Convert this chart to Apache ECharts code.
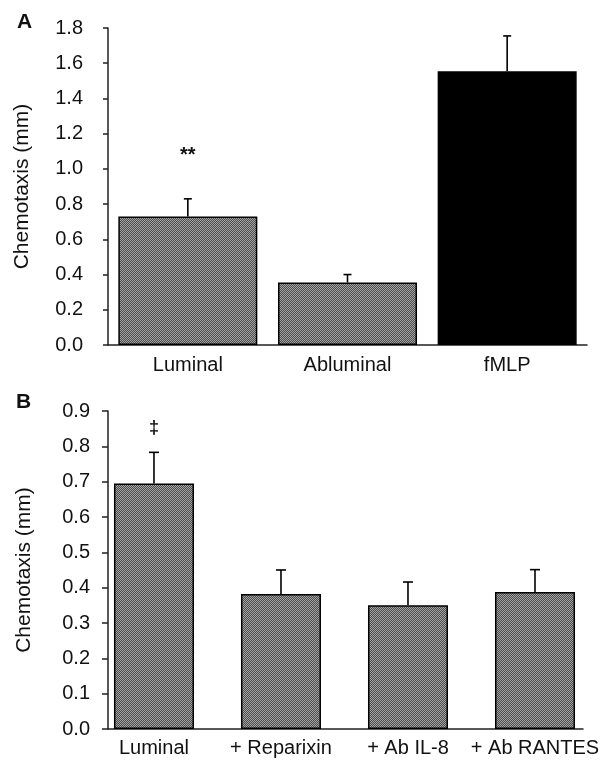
<!DOCTYPE html>
<html>
<head>
<meta charset="utf-8">
<script src="https://cdn.jsdelivr.net/npm/echarts@6/dist/echarts.min.js"></script>
<style>
html,body{margin:0;padding:0;background:#fff;}
#chart{width:605px;height:765px;}
</style>
</head>
<body>
<div id="chart"></div>
<script>
// Panel A data
var catsA = ['Luminal', 'Abluminal', 'fMLP'];
var valsA = [0.73, 0.355, 1.555];
var errA = [0.10, 0.045, 0.20];
var annotA = ['**', '', ''];
var yTicksA = [0, 1.8, 0.2];

// Panel B data
var catsB = ['Luminal', '+ Reparixin', '+ Ab IL-8', '+ Ab RANTES'];
var valsB = [0.695, 0.382, 0.35, 0.388];
var errB = [0.088, 0.068, 0.066, 0.063];
var annotB = ['\u2021', '', '', ''];
var yTicksB = [0, 0.9, 0.1];

var FONT = 'Liberation Sans';

// halftone-like gray pattern
function makePattern() {
  var c = document.createElement('canvas');
  c.width = 2; c.height = 2;
  var g = c.getContext('2d');
  g.fillStyle = '#4c4c4c'; g.fillRect(0, 0, 2, 2);
  g.fillStyle = '#a4a4a4'; g.fillRect(0, 0, 1, 1); g.fillRect(1, 1, 1, 1);
  return c;
}
var pat = { image: makePattern(), repeat: 'repeat' };

var barColorsA = [pat, pat, '#000'];

function errRender(vals, errs, annots, capW, annOffset, annSize) {
  return function (params, api) {
    var i = params.dataIndex;
    var x = api.value(0);
    var p0 = api.coord([x, vals[i]]);
    var p1 = api.coord([x, vals[i] + errs[i]]);
    var children = [
      { type: 'line', shape: { x1: p0[0], y1: p0[1], x2: p1[0], y2: p1[1] }, style: { stroke: '#000', lineWidth: 1.6 } },
      { type: 'line', shape: { x1: p1[0] - capW / 2, y1: p1[1], x2: p1[0] + capW / 2, y2: p1[1] }, style: { stroke: '#000', lineWidth: 1.6 } }
    ];
    if (annots[i]) {
      children.push({ type: 'text', x: p1[0], y: p1[1] - annOffset, style: { text: annots[i], fill: '#111', fontSize: annSize, fontFamily: FONT, fontWeight: 'bold', align: 'center', verticalAlign: 'middle' } });
    }
    return { type: 'group', children: children };
  };
}

var chart = echarts.init(document.getElementById('chart'), null, { renderer: 'canvas' });
var option = {
  animation: false,
  backgroundColor: '#fff',
  textStyle: { fontFamily: FONT },
  title: [
    { text: 'A', left: 12, top: 7, textStyle: { fontSize: 21, fontWeight: 'bold', color: '#111', fontFamily: FONT } },
    { text: 'B', left: 11, top: 387, textStyle: { fontSize: 21, fontWeight: 'bold', color: '#111', fontFamily: FONT } }
  ],
  grid: [
    { left: 108, right: 18, top: 28, height: 317 },
    { left: 108, right: 22, top: 411, height: 318 }
  ],
  xAxis: [
    {
      gridIndex: 0, type: 'category', data: catsA, boundaryGap: true,
      axisLine: { onZero: false, lineStyle: { color: '#222', width: 1.5 } },
      axisTick: { show: false },
      axisLabel: { fontSize: 20, color: '#111', margin: 10, fontFamily: FONT }
    },
    {
      gridIndex: 1, type: 'value', min: -0.362, max: 3.378,
      splitLine: { show: false },
      axisLine: { onZero: false, lineStyle: { color: '#222', width: 1.5 } },
      axisTick: { show: false },
      axisLabel: { customValues: [0, 1, 2, 3], formatter: function (v) { return catsB[Math.round(v)]; }, fontSize: 20, color: '#111', margin: 9, fontFamily: FONT }
    }
  ],
  yAxis: [
    {
      gridIndex: 0, type: 'value', min: yTicksA[0], max: yTicksA[1], interval: yTicksA[2],
      name: 'Chemotaxis (mm)', nameLocation: 'middle', nameGap: 75,
      nameTextStyle: { fontSize: 21, color: '#111', fontFamily: FONT },
      splitLine: { show: false },
      axisLine: { show: true, onZero: false, lineStyle: { color: '#222', width: 1.5 } },
      axisTick: { show: true, length: 5, lineStyle: { color: '#222', width: 1.5 } },
      axisLabel: { formatter: function (v) { return v.toFixed(1); }, fontSize: 20, color: '#111', margin: 25, fontFamily: FONT }
    },
    {
      gridIndex: 1, type: 'value', min: yTicksB[0], max: yTicksB[1], interval: yTicksB[2],
      name: 'Chemotaxis (mm)', nameLocation: 'middle', nameGap: 73,
      nameTextStyle: { fontSize: 21, color: '#111', fontFamily: FONT },
      splitLine: { show: false },
      axisLine: { show: true, onZero: false, lineStyle: { color: '#222', width: 1.5 } },
      axisTick: { show: true, length: 6, lineStyle: { color: '#222', width: 1.5 } },
      axisLabel: { formatter: function (v) { return v.toFixed(1); }, fontSize: 20, color: '#111', margin: 18, fontFamily: FONT }
    }
  ],
  series: [
    {
      type: 'bar', xAxisIndex: 0, yAxisIndex: 0, barWidth: 139,
      data: valsA.map(function (v, i) { return { value: v, itemStyle: { color: barColorsA[i] } }; }),
      itemStyle: { borderColor: '#000', borderWidth: 1.5 }
    },
    {
      type: 'custom', xAxisIndex: 0, yAxisIndex: 0, z: 10,
      data: valsA.map(function (v, i) { return [i, v + errA[i]]; }),
      renderItem: errRender(valsA, errA, annotA, 8, 43, 20)
    },
    {
      type: 'bar', xAxisIndex: 1, yAxisIndex: 1, barWidth: 80,
      data: valsB.map(function (v, i) { return [i, v]; }),
      itemStyle: { color: pat, borderColor: '#000', borderWidth: 1.5 }
    },
    {
      type: 'custom', xAxisIndex: 1, yAxisIndex: 1, z: 10,
      data: valsB.map(function (v, i) { return [i, v + errB[i]]; }),
      renderItem: errRender(valsB, errB, annotB, 10, 24, 18)
    }
  ]
};
chart.setOption(option);
</script>
</body>
</html>
